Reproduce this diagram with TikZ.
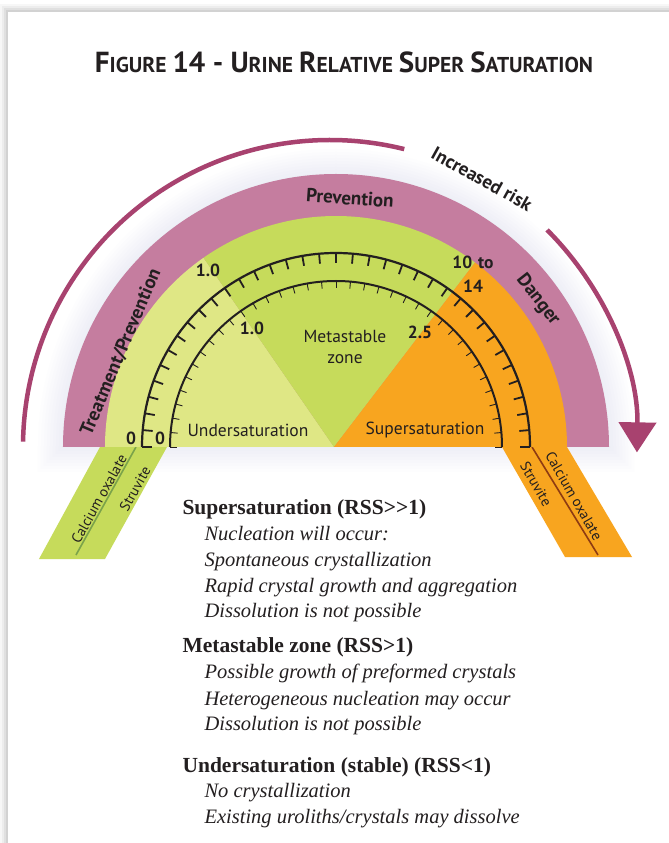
\documentclass[tikz,border=0pt]{standalone}
\usepackage{fontspec}
\setmainfont{Liberation Serif}
\setsansfont{PT Sans}
\usetikzlibrary{arrows.meta,positioning}
\definecolor{rssInk}{HTML}{231F20}
\definecolor{rssPink}{HTML}{C57D9F}
\definecolor{rssArrow}{HTML}{A8426F}
\definecolor{rssLight}{HTML}{DFE785}
\definecolor{rssGreen}{HTML}{C6DB5B}
\definecolor{rssOrange}{HTML}{F8A51F}
\definecolor{rssGreenLine}{HTML}{7BA34A}
\definecolor{rssBrown}{HTML}{8E3B12}
\definecolor{rssHalo}{HTML}{C9D5EE}
\newcommand{\tcap}[2]{{\fontsize{29}{29}\selectfont #1}{\fontsize{21.5}{21.5}\selectfont #2}}

\begin{document}
\begin{tikzpicture}[x=1pt, y=1pt, font=\sffamily, text=rssInk,
  zonelbl/.style={font=\sffamily\fontsize{17.5}{21}\selectfont, align=center},
  numlbl/.style={font=\sffamily\bfseries\fontsize{17.5}{24}\selectfont, align=center},
  bandlbl/.style={font=\sffamily\bfseries\fontsize{19}{19}\selectfont},
  tablbl/.style={font=\sffamily\fontsize{14.5}{14.5}\selectfont, inner sep=1pt},
  headlbl/.style={anchor=base west, font=\rmfamily\bfseries\fontsize{21.5}{21.5}\selectfont},
  itemlbl/.style={anchor=base west, font=\rmfamily\itshape\fontsize{20.5}{20.5}\selectfont}]
  \useasboundingbox (-336,-396) rectangle (333,447);
  % page and card with its shadow
  \fill[white] (-336,-396) rectangle (333,447);
  \foreach \s/\o in {8/0.03, 6/0.04, 4/0.05, 2/0.06}{
    \fill[black, opacity=\o] (-328-\s,435+\s) rectangle (333,-396);
  }
  \fill[white] (-328,435) rectangle (333,-396);
  % title
  \node[anchor=base, font=\sffamily\bfseries] (title) at (8,374)
    {\tcap{F}{IGURE}\hspace{6pt}\tcap{14 - U}{RINE}\hspace{6pt}\tcap{R}{ELATIVE}\hspace{6pt}\tcap{S}{UPER}\hspace{6pt}\tcap{S}{ATURATION}};
  % soft halo behind the dial
  \foreach \r in {274,277,...,298}{
    \fill[rssHalo, opacity=0.035] (-\r,273-\r) -- (-\r,0) arc (180:0:\r) -- (\r,273-\r) -- cycle;
  }
  % tabs below the dial
  \fill[rssGreen] (-236,0) -- (-169,0) -- (-231,-112) -- (-297,-112) -- cycle;
  \draw[rssGreenLine, line width=1.6] (-200,0) -- (-260,-108);
  \node[tablbl, rotate=61] (caLeft) at (-237,-52) {Calcium oxalate};
  \node[tablbl, rotate=61] (stLeft) at (-201,-42) {Struvite};
  \fill[rssOrange] (166,0) -- (231,0) -- (296,-110) -- (229,-110) -- cycle;
  \draw[rssBrown, line width=1.6] (196,0) -- (262,-108);
  \node[tablbl, rotate=-60] (stRight) at (200,-37) {Struvite};
  \node[tablbl, rotate=-60] (caRight) at (238,-49) {Calcium oxalate};
  % dial
  \fill[rssPink] (-273,0) arc (180:0:273) -- cycle;
  \fill[rssLight] (-2,0) -- (180:231) arc (180:125:231) -- cycle;
  \fill[rssGreen] (-2,0) -- (125:231) arc (125:53:231) -- cycle;
  \fill[rssOrange] (-2,0) -- (53:231) arc (53:0:231) -- cycle;
  % the two scales
  \draw[rssInk, line width=2.2] (180:194) arc (180:0:194);
  \foreach \a in {0,5,...,180}{
    \draw[rssInk, line width=1.8] (\a:194) -- (\a:184);
  }
  \draw[rssInk, line width=2] (180:166) arc (180:0:166);
  \foreach \a in {0,5,...,180}{
    \draw[rssInk, line width=0.9] (\a:166) -- (\a:159);
  }
  \node[numlbl] (outZero) at (-205,9) {0};
  \node[numlbl] (inZero) at (-176,9) {0};
  \node[numlbl] (outOne) at (-128,177) {1.0};
  \node[numlbl] (inOne) at (-84,119) {1.0};
  \node[numlbl] (inTwo) at (84,115) {2.5};
  \node[numlbl] (outTen) at (137,173) {10\,\,to\\14};
  % zone names
  \node[zonelbl] (under) at (-88,17) {Undersaturation};
  \node[zonelbl] (meta) at (9,100) {Metastable\\zone};
  \node[zonelbl] (super) at (89,17) {Supersaturation};
  \node[bandlbl, rotate=-4] (prev) at (14,249) {Prevention};
  \node[bandlbl, rotate=67] (treat) at (-215,95) {Treatment/Prevention};
  \node[bandlbl, rotate=-52] (danger) at (202,147) {Danger};
  % increased risk arrow
  \draw[rssArrow, line width=4.5] (-6,0) ++(179:307) arc (179:76:307);
  \draw[rssArrow, line width=4.5, -{Triangle[width=37pt, length=30pt]}]
    (-6,0) ++(45:307) arc (45:-1:307);
  \node[font=\sffamily\bfseries\fontsize{19}{19}\selectfont, rotate=-29] (risk) at (146,268) {Increased risk};
  % legend text
  \node[headlbl] (supHead) at (-157,-67) {Supersaturation (RSS>{}>1)};
  \foreach \y/\txt [count=\i] in {-93/{Nucleation will occur:}, -119/{Spontaneous crystallization},
      -145/{Rapid crystal growth and aggregation}, -170/{Dissolution is not possible}}{
    \node[itemlbl] (supItem\i) at (-135,\y) {\txt};
  }
  \node[headlbl] (metaHead) at (-157,-205) {Metastable zone (RSS>1)};
  \foreach \y/\txt [count=\i] in {-231/{Possible growth of preformed crystals},
      -258/{Heterogeneous nucleation may occur}, -283/{Dissolution is not possible}}{
    \node[itemlbl] (metaItem\i) at (-135,\y) {\txt};
  }
  \node[headlbl] (underHead) at (-157,-325) {Undersaturation (stable) (RSS<1)};
  \foreach \y/\txt [count=\i] in {-350/{No crystallization}, -376/{Existing uroliths/crystals may dissolve}}{
    \node[itemlbl] (underItem\i) at (-135,\y) {\txt};
  }
\end{tikzpicture}
\end{document}
